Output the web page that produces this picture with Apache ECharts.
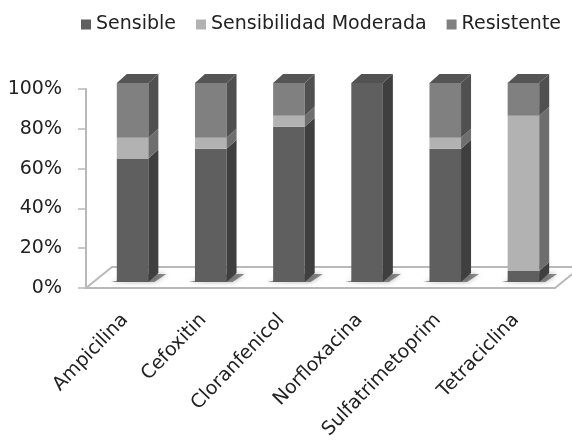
<!DOCTYPE html>
<html><head><meta charset="utf-8">
<style>html,body{margin:0;padding:0;background:#fff}#c{width:572px;height:446px}#c canvas{filter:blur(.35px)}</style>
<script src="https://cdn.jsdelivr.net/npm/echarts@6/dist/echarts.min.js"></script>
</head><body><div id="c"></div>
<script>
const categories = ['Ampicilina','Cefoxitin','Cloranfenicol','Norfloxacina','Sulfatrimetoprim','Tetraciclina'];
const sensible = [62, 67, 78, 100, 67, 5.5];
const moderada = [10.5, 5.5, 5.5, 0, 5.5, 78];
const resistente = [27.5, 27.5, 16.5, 0, 27.5, 16.5];
const names = ['Sensible','Sensibilidad Moderada','Resistente'];
const palette = [
  {front:'#5f5f5f', side:'#3f3f3f', top:'#525252'},
  {front:'#b2b2b2', side:'#6e6e6e', top:'#8a8a8a'},
  {front:'#808080', side:'#505050', top:'#555555'}
];
const stacks = [sensible, moderada, resistente];
const DX = 10, DY = -9, LIFT = -6;

function stackSeries(si){
  const rows = categories.map((c,i)=>{
    let base = 0; for(let k=0;k<si;k++) base += stacks[k][i];
    return [i, base, base + stacks[si][i]];
  });
  return {
    name: names[si], type:'custom', coordinateSystem:'cartesian2d', z:3, clip:false,
    itemStyle:{color:palette[si].front},
    encode:{x:0,y:[1,2]},
    data: rows,
    renderItem(params, api){
      const cat = api.value(0), lo = api.value(1), hi = api.value(2);
      if(hi - lo <= 0) return {type:'group',children:[]};
      const band = api.size([1,0])[0];
      const c = api.coord([cat, lo]);
      const t = api.coord([cat, hi]);
      const x0 = c[0] - band*0.106, x1 = c[0] + band*0.298;
      const y0 = c[1] + LIFT, y1 = t[1] + LIFT;
      const p = palette[si];
      const kids = [
        {type:'polygon',shape:{points:[[x0,y1],[x1,y1],[x1,y0],[x0,y0]]},style:{fill:p.front}},
        {type:'polygon',shape:{points:[[x1,y1],[x1+DX,y1+DY],[x1+DX,y0+DY],[x1,y0]]},style:{fill:p.side}}
      ];
      if(hi >= 99.9) kids.push({type:'polygon',shape:{points:[[x0,y1],[x0+DX,y1+DY],[x1+DX,y1+DY],[x1,y1]]},style:{fill:p.top}});
      return {type:'group',children:kids};
    }
  };
}

const floorSeries = {
  type:'custom', coordinateSystem:'cartesian2d', z:1, clip:false, silent:true,
  data: categories.map((c,i)=>[i,0]),
  encode:{x:0,y:1},
  renderItem(params, api){
    const cat = api.value(0);
    const band = api.size([1,0])[0];
    const c = api.coord([cat,0]);
    const kids = [];
    if(params.dataIndex === 0){
      const a = api.coord([0,0]), b = api.coord([categories.length-1,0]);
      const L = a[0]-band/2, R = b[0]+band/2, Y = a[1];
      kids.push({type:'polygon',shape:{points:[[L,Y],[L+26,Y-21],[R+26,Y-21],[R,Y]]},
        style:{fill:'#fff',stroke:'#b9b9b9',lineWidth:2}});
    }
    const x0 = c[0]-band*0.106, x1 = c[0]+band*0.298, y0 = c[1]+LIFT;
    kids.push({type:'polygon',shape:{points:[[x0-6,y0],[x1+6,y0],[x1+18,y0-8],[x1,y0-8]]},
      style:{fill:'rgba(70,70,70,.6)',shadowBlur:5,shadowColor:'rgba(70,70,70,.7)'}});
    return {type:'group',children:kids};
  }
};

const chart = echarts.init(document.getElementById('c'), null, {renderer:'canvas'});
chart.setOption({
  animation:false,
  backgroundColor:'#fff',
  textStyle:{fontFamily:'DejaVu Sans'},
  legend:{
    data:names, left:76, top:10, icon:'rect', itemWidth:10, itemHeight:10, itemGap:20,
    textStyle:{fontSize:19,color:'#222',fontFamily:'DejaVu Sans'}
  },
  grid:{left:86,right:17,top:89,bottom:158},
  xAxis:{
    type:'category', data:categories,
    axisLine:{lineStyle:{color:'#b9b9b9',width:2}},
    axisTick:{length:8,lineStyle:{color:'#b9b9b9',width:1.5},alignWithLabel:false},
    axisLabel:{rotate:46,fontSize:19,color:'#222',margin:29,interval:0,fontFamily:'DejaVu Sans'}
  },
  yAxis:{
    type:'value', min:0, max:100, interval:20,
    splitLine:{show:false},
    axisLine:{show:true,lineStyle:{color:'#b9b9b9',width:2}},
    axisTick:{show:true,length:8,lineStyle:{color:'#b9b9b9',width:1.5}},
    axisLabel:{formatter:'{value}%',fontSize:19,color:'#222',margin:24,padding:[7,0,0,0],fontFamily:'DejaVu Sans'}
  },
  series:[floorSeries, stackSeries(0), stackSeries(1), stackSeries(2)]
});
</script></body></html>
